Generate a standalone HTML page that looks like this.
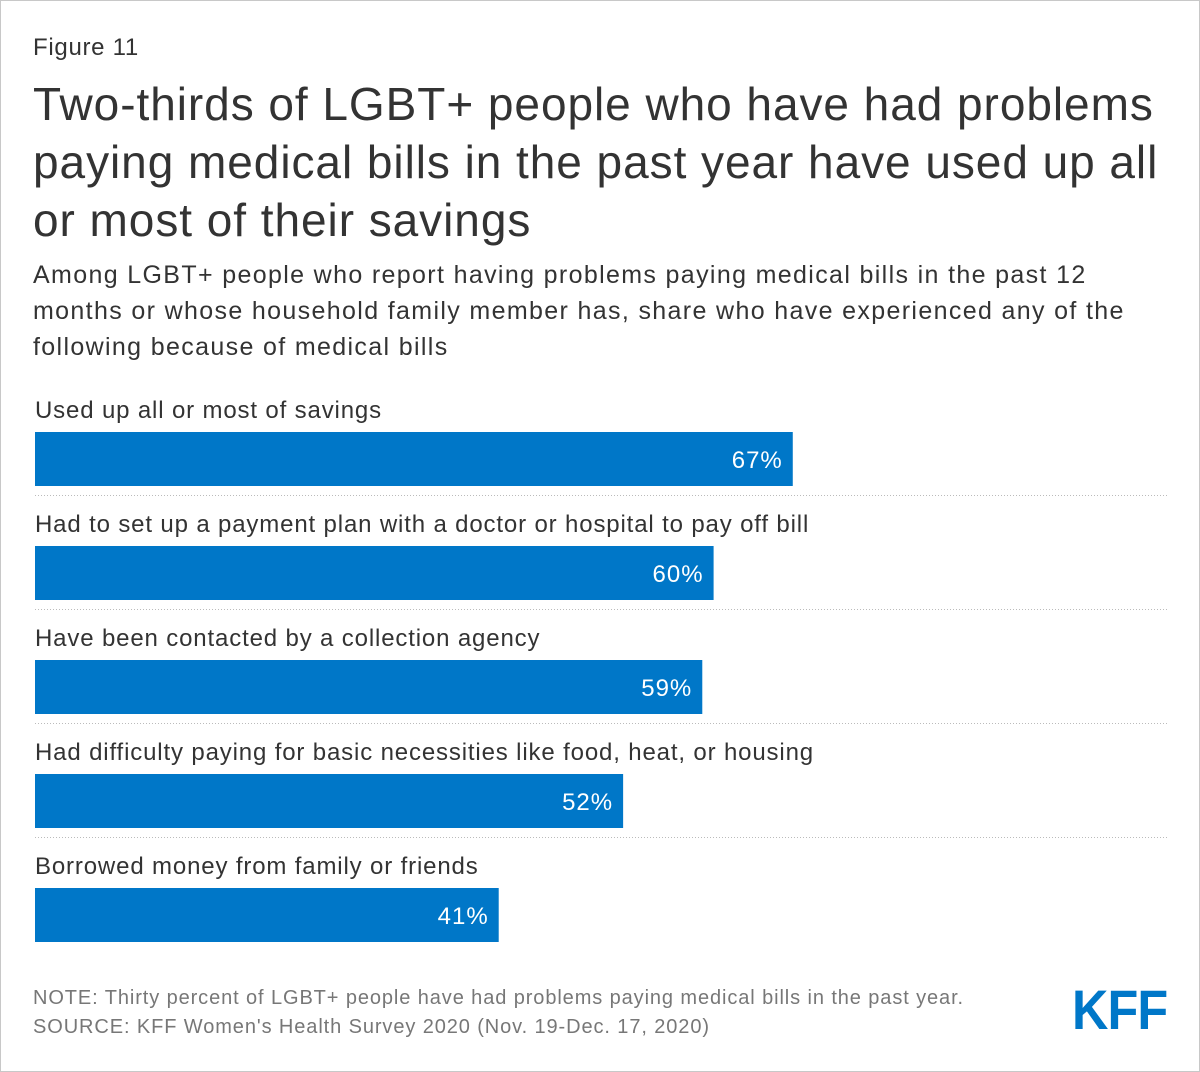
<!DOCTYPE html>
<html><head><meta charset="utf-8"><style>
body{margin:0;background:#fff;}
#root{position:relative;width:1198px;height:1070px;border:1px solid #c8c8c8;background:#fff;font-family:"Liberation Sans",sans-serif;color:#333;overflow:hidden;}
.abs{position:absolute;white-space:nowrap;}
</style></head><body>
<div id="root">
<div class="abs" style="left:32px;top:33px;font-size:24px;color:#333;letter-spacing:0.7px;">Figure 11</div>
<div class="abs" style="left:32px;top:74px;font-size:46px;line-height:58px;color:#333;letter-spacing:0.95px;">Two-thirds of LGBT+ people who have had problems<br>paying medical bills in the past year have used up all<br>or most of their savings</div>
<div class="abs" style="left:32px;top:256px;font-size:25px;line-height:36px;color:#333;letter-spacing:1.35px;">Among LGBT+ people who report having problems paying medical bills in the past 12<br>months or whose household family member has, share who have experienced any of the<br>following because of medical bills</div>
<svg id="chart" class="abs" style="left:0;top:0" width="1198" height="1070"></svg>
<div class="abs" style="left:32px;top:986px;font-size:20px;color:#777;letter-spacing:0.9px;">NOTE: Thirty percent of LGBT+ people have had problems paying medical bills in the past year.</div>
<div class="abs" style="left:32px;top:1015px;font-size:20px;color:#777;letter-spacing:0.9px;">SOURCE: KFF Women's Health Survey 2020 (Nov. 19-Dec. 17, 2020)</div>
<div class="abs" style="left:1071px;top:976px;font-size:56px;font-weight:bold;color:#0077c8;transform:scaleX(0.9);transform-origin:left top;letter-spacing:-1px;">KFF</div>
</div>
<script>
const categories=["Used up all or most of savings","Had to set up a payment plan with a doctor or hospital to pay off bill","Have been contacted by a collection agency","Had difficulty paying for basic necessities like food, heat, or housing","Borrowed money from family or friends"];
const values=[67,60,59,52,41];
const valueLabels=["67%","60%","59%","52%","41%"];
const svg=document.getElementById('chart');
const NS='http://www.w3.org/2000/svg';
const x0=34, pxPer=11.31, top0=432, step=114, barH=54;
function xScale(v){return v*pxPer;}
function yPos(i){return top0+i*step;}
categories.forEach((c,i)=>{
  const y=yPos(i);
  const t=document.createElementNS(NS,'text');
  t.setAttribute('x',x0);t.setAttribute('y',y-15);
  t.setAttribute('font-size','24');t.setAttribute('fill','#333');
  t.setAttribute('letter-spacing','0.85');
  t.setAttribute('font-family','Liberation Sans, sans-serif');
  t.textContent=c;
  
  
  svg.appendChild(t);
  const r=document.createElementNS(NS,'rect');
  r.setAttribute('x',x0);r.setAttribute('y',y-1);
  r.setAttribute('width',xScale(values[i]));r.setAttribute('height',barH);
  r.setAttribute('fill','#0077c8');
  
  
  svg.appendChild(r);
  const v=document.createElementNS(NS,'text');
  v.setAttribute('x',x0+xScale(values[i])-10);v.setAttribute('y',y+35);
  v.setAttribute('text-anchor','end');
  v.setAttribute('font-size','24');v.setAttribute('fill','#fff');
  v.setAttribute('letter-spacing','1');
  v.setAttribute('font-family','Liberation Sans, sans-serif');
  v.textContent=valueLabels[i];
  
  
  svg.appendChild(v);
  if(i<categories.length-1){
    const l=document.createElementNS(NS,'line');
    l.setAttribute('x1',x0);l.setAttribute('x2',1166);
    l.setAttribute('y1',y+barH+8.5);l.setAttribute('y2',y+barH+8.5);
    l.setAttribute('stroke','#bbb');l.setAttribute('stroke-dasharray','1,2');
    
    
    svg.appendChild(l);
  }
});
</script>
</body></html>
